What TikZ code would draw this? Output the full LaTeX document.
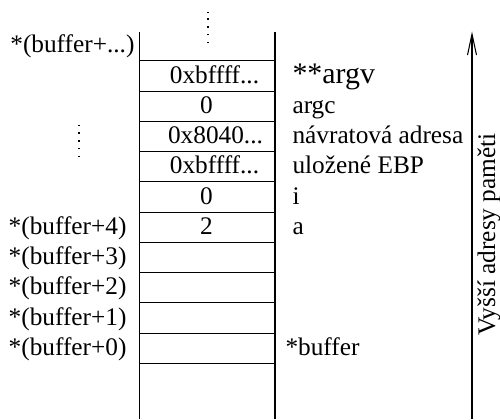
\documentclass[tikz,border=0pt]{standalone}
\usepackage{fontspec}
\setmainfont{Liberation Serif}
\usetikzlibrary{arrows.meta}

\begin{document}
\begin{tikzpicture}[line width=0.6pt, font=\fontsize{14.4}{17}\selectfont]
    % Styles
    \tikzset{
        stackdots/.style={line width=0.8pt, dash pattern=on 0.8pt off 3.6pt},
        slot/.style={anchor=base, inner sep=0pt},
        addr/.style={anchor=base east, inner sep=0pt},
        var/.style={anchor=base west, inner sep=0pt}
    }
    \useasboundingbox (0,0) rectangle (10,8.38);

    % Stack frame
    \draw (2.786,0) -- (2.786,7.746);
    \draw (5.5,0) -- (5.5,7.746);
    \foreach \k in {0,...,10}
        \draw (2.786,1.114+\k*0.605) -- (5.5,1.114+\k*0.605);

    % Continuation dots
    \draw[stackdots] (4.16,7.52) -- (4.16,8.14);
    \draw[stackdots] (1.58,5.24) -- (1.58,5.9);

    % Cell values
    \node[slot] (cell9) at (4.29,6.719) {0xbffff...};
    \node[slot] (cell8) at (4.13,6.114) {0};
    \node[slot] (cell7) at (4.31,5.509) {0x8040...};
    \node[slot] (cell6) at (4.29,4.904) {0xbffff...};
    \node[slot] (cell5) at (4.13,4.299) {0};
    \node[slot] (cell4) at (4.13,3.694) {2};

    % Addresses
    \foreach \k in {0,...,4}
        \node[addr] (addr\k) at (2.54,1.274+\k*0.605) {*(buffer+\k)};
    \node[addr] (addrtop) at (2.70,7.324) {*(buffer+...)};

    % Variables
    \node[var, font=\fontsize{17}{20}\selectfont] (var9) at (5.84,6.719) {**argv};
    \foreach \k/\t in {8/argc, 7/návratová adresa, 6/uložené EBP, 5/i, 4/a}
        \node[var] (var\k) at (5.84,1.274+\k*0.605) {\t};
    \node[var] (var0) at (5.70,1.274) {*buffer};

    % Direction of addresses
    \coordinate (low) at (9.44,0);
    \coordinate (high) at (9.44,7.75);
    \draw[-{Straight Barb[length=0.42cm, width=0.18cm]}] (low) -- (high);
    \node[rotate=90, anchor=base] (dir) at (9.9,3.69) {Vyšší adresy paměti};
\end{tikzpicture}
\end{document}
